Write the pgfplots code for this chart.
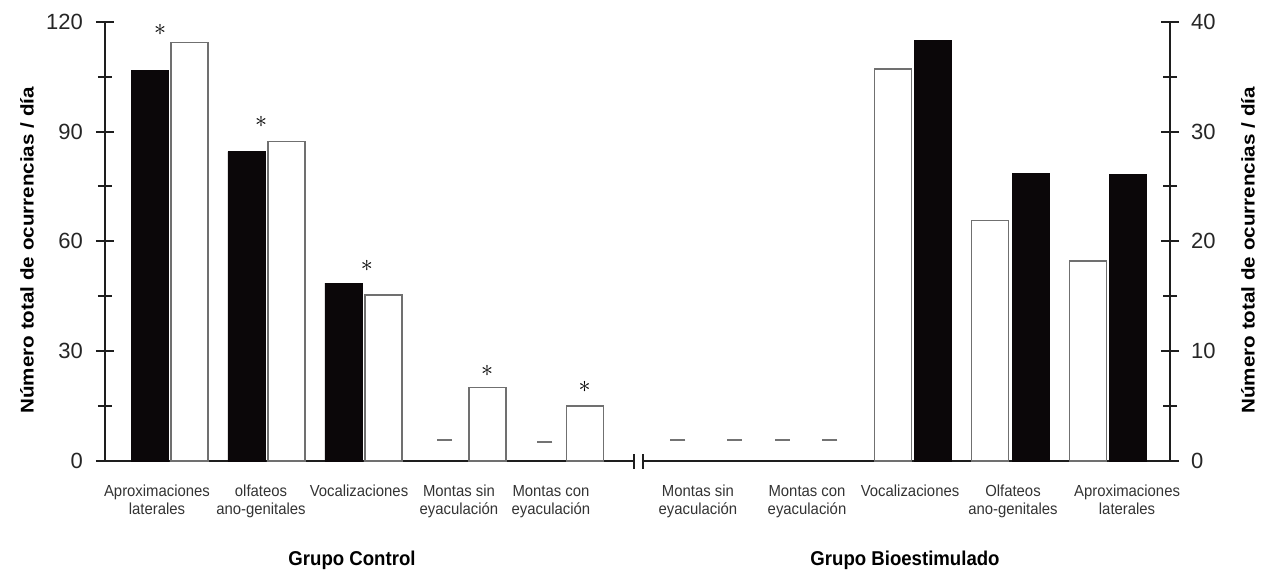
\documentclass[border=0pt]{standalone}
\usepackage{fontspec}
\setmainfont{Liberation Sans}
\newfontfamily\catfont[FakeStretch=0.93]{Liberation Sans}
\newfontfamily\labfont[FakeStretch=1.12]{Liberation Sans}
\usepackage{pgfplots}
\pgfplotsset{compat=1.18}
\definecolor{barblack}{HTML}{0B0709}
\definecolor{bargray}{HTML}{707070}
\definecolor{axisgray}{HTML}{1E1E1E}

\pgfplotsset{
  panel/.style={
    scale only axis,
    height=219.65pt,
    ymin=0, clip=false,
    axis x line=bottom,
    xtick style={draw=none},
    tick align=center,
    major tick length=9pt, minor tick length=7pt,
    ytick style={line width=1pt, draw=axisgray},
    minor y tick num=1,
    /pgf/number format/assume math mode=true,
    yticklabel style={font=\fontsize{11}{12}\selectfont, text=black!85},
    xticklabel style={font=\catfont\fontsize{8}{9}\selectfont, align=center, yshift=-4pt, text=black!80},
  },
  lines/.style={axis line style={-, line width=1pt, draw=axisgray}},
  blackbar/.style={ybar, bar width=18.5pt, bar shift=0pt, fill=barblack, draw=barblack},
  whitebar/.style={ybar, bar width=18.5pt, bar shift=0pt, fill=white, draw=bargray, line width=0.7pt},
  dash/.style={only marks, mark=-, mark size=3.75pt, mark options={line width=0.9pt, draw=black!55}},
}
\tikzset{sigstar/.style={inner sep=0pt, font=\fontsize{13}{13}\selectfont}}

\begin{document}
\begin{tikzpicture}
\useasboundingbox (-52.5pt,-55.5pt) rectangle (578.5pt,230.5pt);

% Grupo Control (left scale 0-120)
\begin{axis}[
  panel,
  at={(0,0)}, anchor=south west,
  width=264.5pt,
  xmin=-0.660, xmax=4.711,
  ymax=120,
  axis y line=left, lines,
  ytick={0,30,...,120},
  yticklabel style={xshift=-3pt},
  xtick={-0.132,0.924,1.919,2.934,3.868},
  xticklabels={Aproximaciones\\laterales, olfateos\\ano-genitales, Vocalizaciones, Montas sin\\eyaculación, Montas con\\eyaculación},
  every axis y label/.style={at={(axis description cs:0,0.5)}, xshift=-39pt, yshift=-4.5pt,
    rotate=90, anchor=center, font=\labfont\bfseries\fontsize{9.2}{11}\selectfont},
  ylabel={Número total de ocurrencias / día},
]
\addplot[blackbar] coordinates {(-0.203,106.8) (0.776,84.5) (1.761,48.6)};
\addplot[whitebar] coordinates {(0.198,114.3) (1.183,87.2) (2.168,45.3) (3.223,20.0) (4.213,15.0)};
\addplot[dash] coordinates {(2.787,5.7) (3.807,5.2)};
\node[sigstar] at (axis cs:-0.10,117.8) {$\ast$};
\node[sigstar] at (axis cs:0.924,92.6) {$\ast$};
\node[sigstar] at (axis cs:2.00,53.3) {$\ast$};
\node[sigstar] at (axis cs:3.22,24.6) {$\ast$};
\node[sigstar] at (axis cs:4.21,20.1) {$\ast$};
\draw[line width=1pt, axisgray] ([yshift=-3.75pt]axis description cs:1,0) -- ([yshift=3.75pt]axis description cs:1,0);
\node[font=\catfont\bfseries\fontsize{10}{12}\selectfont] at ([yshift=-49.5pt]axis cs:1.848,0) {Grupo Control};
\end{axis}

% Grupo Bioestimulado (right scale 0-40)
\begin{axis}[
  panel,
  at={(269pt,0)}, anchor=south west,
  width=263.5pt,
  xmin=-0.741, xmax=4.609,
  ymax=40,
  axis y line=right, lines,
  ytick={0,10,...,40},
  yticklabel style={xshift=2.5pt},
  xtick={-0.183,0.924,1.970,3.015,4.173},
  xticklabels={Montas sin\\eyaculación, Montas con\\eyaculación, Vocalizaciones, Olfateos\\ano-genitales, Aproximaciones\\laterales},
  every axis y label/.style={at={(axis description cs:1,0.5)}, xshift=39pt, yshift=-4.5pt,
    rotate=90, anchor=center, font=\labfont\bfseries\fontsize{9.2}{11}\selectfont},
  ylabel={Número total de ocurrencias / día},
]
\addplot[whitebar] coordinates {(1.797,35.7) (2.782,21.9) (3.777,18.2)};
\addplot[blackbar] coordinates {(2.198,38.3) (3.193,26.2) (4.178,26.1)};
\addplot[dash] coordinates {(-0.386,1.9) (0.183,1.9) (0.670,1.9) (1.157,1.9)};
\draw[line width=1pt, axisgray] ([yshift=-3.75pt]axis description cs:0,0) -- ([yshift=3.75pt]axis description cs:0,0);
\node[font=\catfont\bfseries\fontsize{10}{12}\selectfont] at ([yshift=-49.5pt]axis cs:1.919,0) {Grupo Bioestimulado};
\end{axis}
\end{tikzpicture}
\end{document}
